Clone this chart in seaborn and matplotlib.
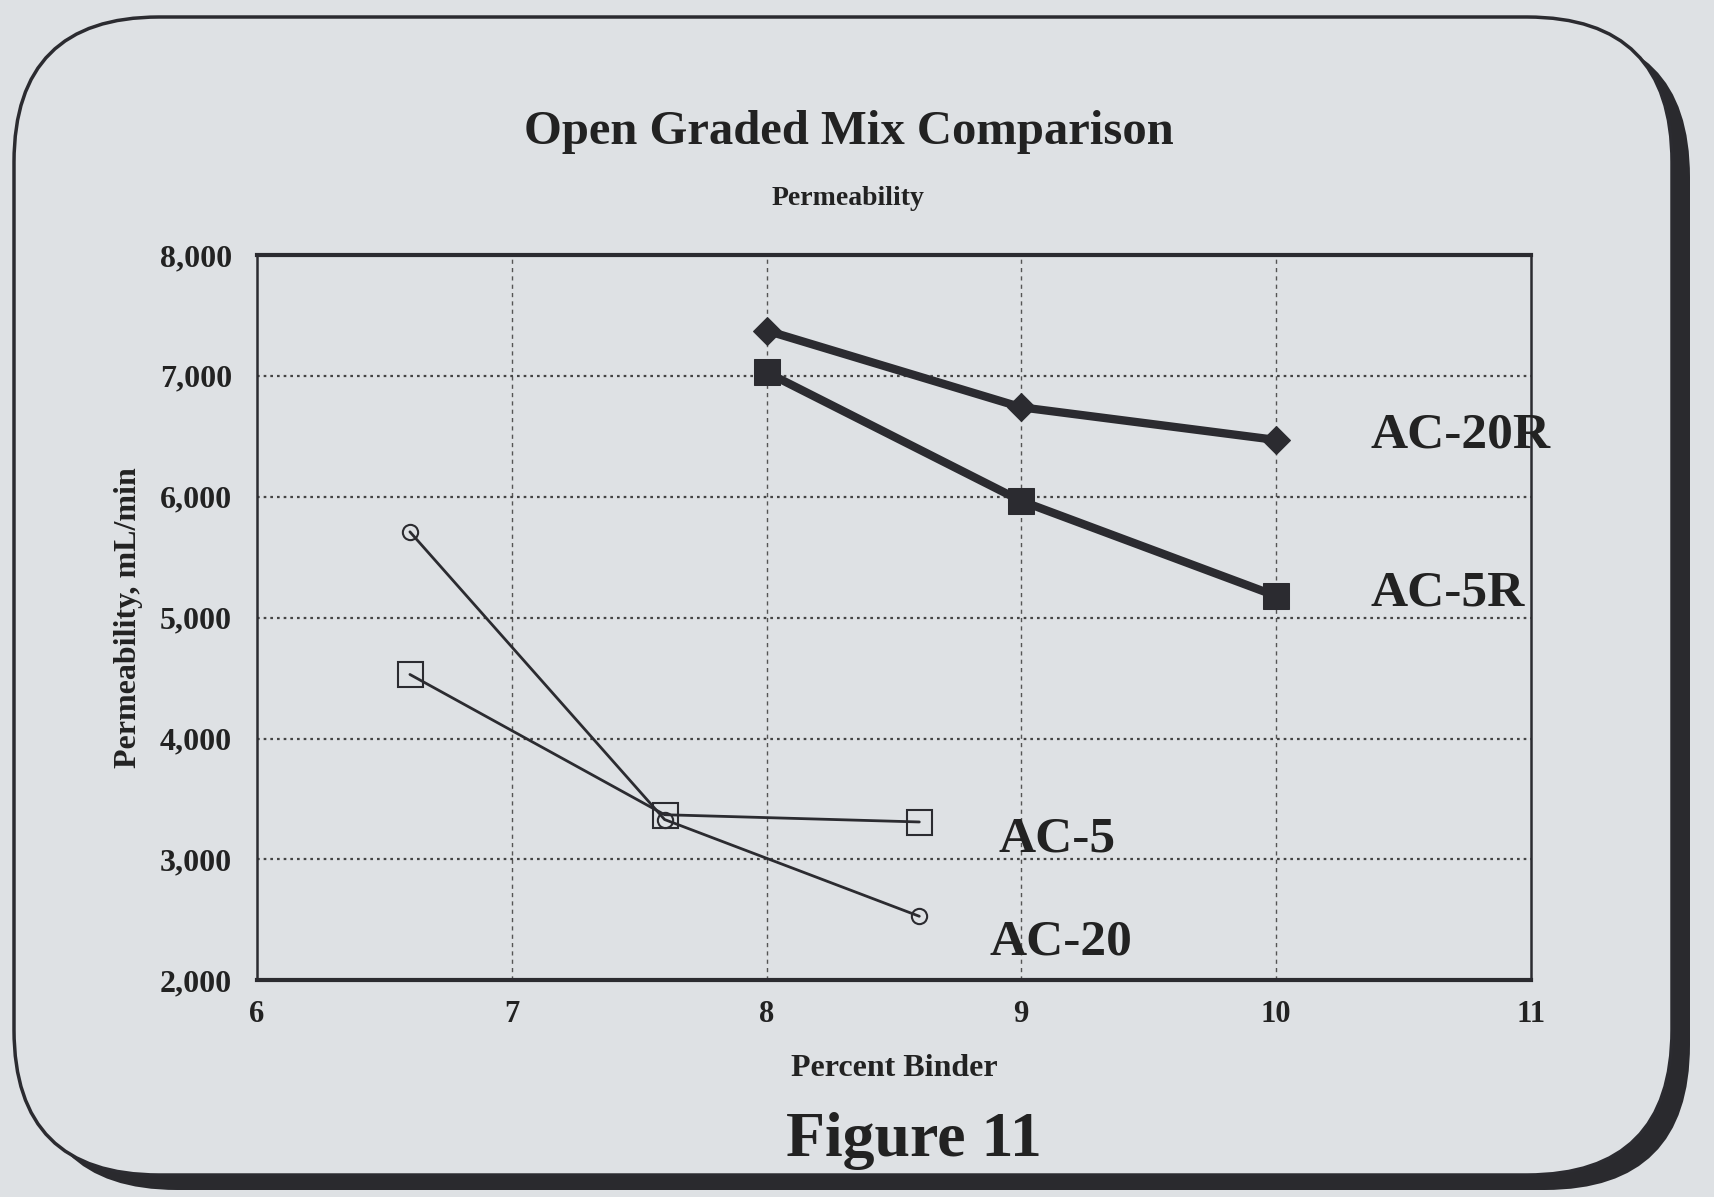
import matplotlib
matplotlib.use("Agg")
import matplotlib.pyplot as plt
import seaborn as sns
import pandas as pd
from matplotlib.patches import FancyBboxPatch

# ---- data ----
binder_r = [8, 9, 10]
ac20r = [7375, 6740, 6470]
ac5r = [7030, 5965, 5180]
binder = [6.6, 7.6, 8.6]
ac20 = [5710, 3330, 2530]
ac5 = [4530, 3370, 3310]
x_ticks = [6, 7, 8, 9, 10, 11]
y_ticks = [2000, 3000, 4000, 5000, 6000, 7000, 8000]

BG = "#dee1e4"
INK = "#2b2b30"

sns.set_theme(style="white")
plt.rcParams["font.family"] = ["Liberation Serif", "DejaVu Serif"]
plt.rcParams["font.weight"] = "bold"

fig = plt.figure(figsize=(17.14, 11.97), dpi=100, facecolor=BG)

# rounded frame with shadow (inches)
shadow = FancyBboxPatch((0.32, 0.07), 16.58, 11.58,
                        boxstyle="round,pad=0,rounding_size=1.45",
                        transform=fig.dpi_scale_trans, facecolor="#2a2a2e",
                        edgecolor="none", zorder=-10)
frame = FancyBboxPatch((0.14, 0.22), 16.58, 11.58,
                       boxstyle="round,pad=0,rounding_size=1.45",
                       transform=fig.dpi_scale_trans, facecolor=BG,
                       edgecolor=INK, linewidth=2.5, zorder=-9)
fig.patches.extend([shadow, frame])

ax = fig.add_axes([0.150, 0.181, 0.743, 0.606])
ax.set_facecolor(BG)
ax.patch.set_alpha(0)

df_r = pd.DataFrame({"x": binder_r, "AC-20R": ac20r, "AC-5R": ac5r})
df = pd.DataFrame({"x": binder, "AC-20": ac20, "AC-5": ac5})

sns.lineplot(data=df_r, x="x", y="AC-20R", ax=ax, color=INK, lw=6,
             marker="D", markersize=14, markeredgecolor=INK, zorder=5)
sns.lineplot(data=df_r, x="x", y="AC-5R", ax=ax, color=INK, lw=6,
             marker="s", markersize=19, markeredgecolor=INK, zorder=5)
sns.lineplot(data=df, x="x", y="AC-20", ax=ax, color=INK, lw=2,
             marker="o", markersize=11, markerfacecolor="none",
             markeredgecolor=INK, markeredgewidth=1.5, zorder=5)
sns.lineplot(data=df, x="x", y="AC-5", ax=ax, color=INK, lw=2,
             marker="s", markersize=18, markerfacecolor="none",
             markeredgecolor=INK, markeredgewidth=1.5, zorder=5)

ax.set_xlim(6, 11)
ax.set_ylim(2000, 8000)
ax.set_xticks(x_ticks)
ax.set_yticks(y_ticks)
ax.set_xticklabels([str(v) for v in x_ticks], fontsize=22, fontweight="bold", color="#222")
ax.set_yticklabels([f"{v:,}" for v in y_ticks], fontsize=23, fontweight="bold", color="#222")
ax.tick_params(axis="both", direction="in", length=16, width=1.5, color=INK)
ax.tick_params(axis="y", pad=18)
ax.tick_params(axis="x", pad=14)

for x in x_ticks[1:-1]:
    ax.axvline(x, color="#555", lw=1.0, ls=(0, (3, 3)), zorder=1)
for y in y_ticks[1:-1]:
    ax.axhline(y, color="#444", lw=1.6, ls=(0, (1.2, 1.8)), zorder=1)

for side, lw in [("top", 3), ("bottom", 3), ("left", 1.8), ("right", 1.8)]:
    ax.spines[side].set_visible(True)
    ax.spines[side].set_color(INK)
    ax.spines[side].set_linewidth(lw)

ax.set_xlabel("Percent Binder", fontsize=23, fontweight="bold", labelpad=18, color="#222")
ax.set_ylabel("Permeability, mL/min", fontsize=23, fontweight="bold", labelpad=12, color="#222")

lab_kw = dict(fontsize=37, fontweight="bold", color="#222", va="center", ha="left")
ax.text(10.37, 6510, "AC-20R", **lab_kw)
ax.text(10.37, 5200, "AC-5R", **lab_kw)
ax.text(8.91, 3165, "AC-5", **lab_kw)
ax.text(8.875, 2316, "AC-20", **lab_kw)

fig.text(0.495, 0.890, "Open Graded Mix Comparison", fontsize=35, fontweight="bold",
         ha="center", va="center", color="#222")
fig.text(0.495, 0.834, "Permeability", fontsize=20, fontweight="bold",
         ha="center", va="center", color="#222")
fig.text(0.533, 0.047, "Figure 11", fontsize=46, fontweight="bold",
         ha="center", va="center", color="#222")

fig.savefig("out.png", dpi=100, facecolor=BG)
